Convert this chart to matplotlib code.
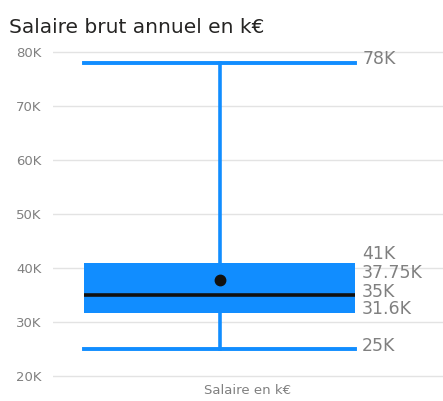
import matplotlib
matplotlib.use("Agg")
import matplotlib.pyplot as plt
from matplotlib.ticker import FuncFormatter

# Statistiques de la boîte (en €)
category = "Salaire en k€"
whis_low = 25000
q1 = 31600
median = 35000
mean = 37750
q3 = 41000
whis_high = 78000

yticks = [20000, 30000, 40000, 50000, 60000, 70000, 80000]

# valeurs annotées à droite
label_values = [whis_high, q3, mean, median, q1, whis_low]
# décalage vertical des étiquettes (points) pour éviter le chevauchement
label_shift = [3, 6.5, 5.5, 2, 3.2, 2.2]

blue = "#118DFF"
grey = "#808080"


def main():
    fig = plt.figure(figsize=(4.43, 4.01), dpi=100)
    ax = fig.add_axes([0.119, 0.049, 0.881, 0.834])

    stats = [{
        "whislo": whis_low, "q1": q1, "med": median, "mean": mean,
        "q3": q3, "whishi": whis_high, "fliers": [], "label": category,
    }]
    pos = -0.072
    width = 0.694
    ax.bxp(stats, positions=[pos], widths=width, capwidths=width,
           showmeans=True, patch_artist=True, showfliers=False,
           boxprops=dict(facecolor=blue, edgecolor=blue, linewidth=0),
           whiskerprops=dict(color=blue, linewidth=2.6),
           capprops=dict(color=blue, linewidth=2.8),
           medianprops=dict(color="#111111", linewidth=2.6),
           meanprops=dict(marker="o", markerfacecolor="#111111",
                          markeredgecolor="#111111", markersize=7.5),
           zorder=3)

    # étiquettes de valeurs
    for v, dy in zip(label_values, label_shift):
        ax.annotate(f"{v / 1000:g}K", xy=(pos + width / 2, v),
                    xytext=(5, dy), textcoords="offset points",
                    ha="left", va="center", fontsize=12.5, color=grey)

    ax.set_xlim(-0.5, 0.5)
    ax.set_ylim(19000, 81000)
    ax.set_xticks([0])
    ax.set_xticklabels([category])
    ax.set_yticks(yticks)
    ax.yaxis.set_major_formatter(FuncFormatter(lambda v, p: f"{v / 1000:.0f}K"))
    ax.tick_params(length=0, labelsize=9.5, colors=grey)
    ax.tick_params(axis="y", pad=8)
    ax.tick_params(axis="x", pad=2)
    ax.grid(axis="y", color="#e3e3e3", linewidth=1)
    ax.set_axisbelow(True)
    for s in ax.spines.values():
        s.set_visible(False)

    fig.text(9 / 443, 1 - 33 / 401, "Salaire brut annuel en k€",
             fontsize=14.5, color="#252423", va="baseline", ha="left")

    fig.savefig("out.png", dpi=100)
    plt.close(fig)


if __name__ == "__main__":
    main()
